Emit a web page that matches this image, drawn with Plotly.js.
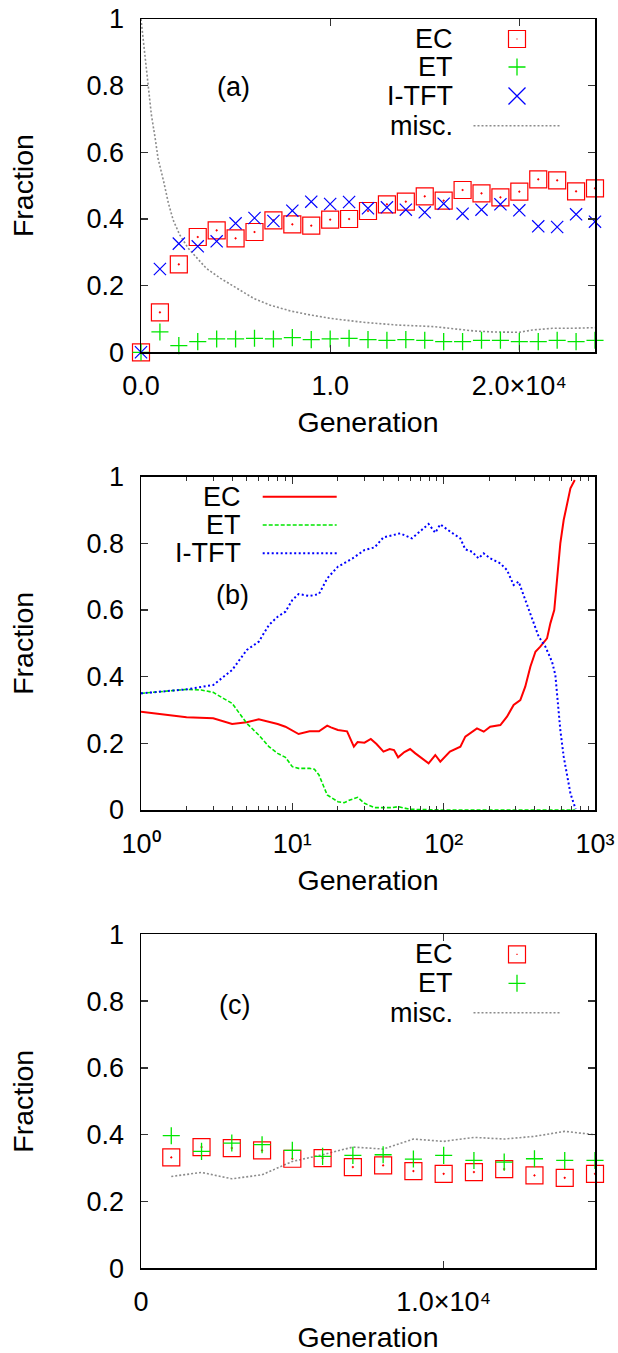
<!DOCTYPE html>
<html><head><meta charset="utf-8">
<script src="https://cdn.plot.ly/plotly-3.0.1.min.js"></script>
<style>html,body{margin:0;padding:0;background:#fff}</style>
</head><body><div id="chart" style="width:618px;height:1353px"></div>
<script>
// ---------- Panel (a) ----------
const genA = [0,1000,2000,3000,4000,5000,6000,7000,8000,9000,10000,11000,12000,13000,14000,15000,16000,17000,18000,19000,20000,21000,22000,23000,24000];
const ecA = [0,0.12,0.264,0.346,0.366,0.342,0.361,0.396,0.384,0.38,0.398,0.40,0.424,0.444,0.452,0.468,0.455,0.487,0.477,0.465,0.482,0.519,0.516,0.483,0.492];
const etA = [0,0.061,0.02,0.032,0.04,0.04,0.042,0.04,0.044,0.038,0.04,0.042,0.038,0.036,0.038,0.036,0.032,0.032,0.036,0.036,0.032,0.032,0.036,0.032,0.036];
const itftA = [0,0.25,0.326,0.318,0.333,0.387,0.403,0.394,0.425,0.452,0.445,0.451,0.432,0.435,0.428,0.42,0.446,0.416,0.428,0.444,0.426,0.378,0.376,0.414,0.392];
const genMiscA = [0,50,200,400,550,750,900,1200,1450,1700,2050,2500,2950,3450,4200,5050,5950,6800,7900,8950,10000,11750,13500,15500,17600,18650,20000,20700,21750,22800,24000];
const miscA = [1.0,0.975,0.882,0.79,0.712,0.642,0.582,0.512,0.447,0.397,0.352,0.312,0.282,0.252,0.222,0.192,0.162,0.142,0.124,0.112,0.102,0.09,0.082,0.077,0.064,0.061,0.06,0.067,0.072,0.072,0.074];
const xTickValsA = [0,10000,20000];
const xTickTextA = ['0.0','1.0','2.0×10⁴'];
const legendA = ['EC','ET','I-TFT','misc.'];

// ---------- Panel (b) ----------
const genEcB = [1,2,3,4,5,6,8,9,11,13,15,17,18,20,23,25.5,27,30,33,36,40,44,47,50,55,60,65,72,79.5,88,95,110,129,139,166,184,203,237,262,290,321,346,374,404,435,482,507,538,561,590,621,654,688,735];
const ecB = [0.295,0.278,0.275,0.258,0.263,0.272,0.258,0.25,0.228,0.236,0.236,0.253,0.248,0.24,0.236,0.19,0.204,0.202,0.213,0.198,0.175,0.183,0.18,0.158,0.174,0.183,0.17,0.155,0.14,0.165,0.145,0.175,0.19,0.22,0.245,0.235,0.25,0.255,0.28,0.315,0.33,0.37,0.43,0.475,0.49,0.515,0.56,0.60,0.69,0.80,0.87,0.92,0.965,0.99];
const genEtB = [1,2,2.5,3,3.5,4,5,6,7,8,9,10,11,13,14,15,17,20,22,24,27,30,35,45,50,60,100,300,740];
const etB = [0.35,0.362,0.36,0.353,0.335,0.32,0.26,0.225,0.19,0.17,0.158,0.13,0.125,0.125,0.122,0.105,0.045,0.025,0.022,0.03,0.038,0.02,0.007,0.007,0.01,0.002,0.0,0.0,0.0];
const genItB = [1,2,3,4,5,6,7,8,9,10,11,13,15,17,20,25,30,35,40,51.6,61.7,70,79.5,88,95,110.6,128.8,139,153.8,170,183.7,203,236.8,262,275.6,290,313,337.5,364.5,393.4,424.5,470,520,547,567,590,621,654,688,723,745];
const itB = [0.35,0.362,0.375,0.42,0.48,0.505,0.555,0.58,0.595,0.63,0.648,0.642,0.648,0.695,0.73,0.755,0.78,0.788,0.818,0.83,0.815,0.835,0.858,0.832,0.857,0.835,0.815,0.782,0.775,0.755,0.77,0.755,0.74,0.72,0.695,0.675,0.685,0.645,0.60,0.56,0.52,0.49,0.445,0.405,0.32,0.24,0.16,0.10,0.05,0.02,0.003];
const xTickValsB = [1,10,100,1000];
const xTickTextB = ['10⁰','10¹','10²','10³'];
const legendB = ['EC','ET','I-TFT'];

// ---------- Panel (c) ----------
const genC = [1000,2000,3000,4000,5000,6000,7000,8000,9000,10000,11000,12000,13000,14000,15000];
const ecC = [0.332,0.363,0.36,0.353,0.328,0.33,0.303,0.308,0.291,0.283,0.288,0.297,0.278,0.271,0.283];
const etC = [0.397,0.35,0.375,0.37,0.353,0.335,0.338,0.34,0.327,0.338,0.323,0.318,0.328,0.323,0.323];
const miscC = [0.275,0.287,0.268,0.28,0.32,0.34,0.363,0.357,0.387,0.38,0.392,0.387,0.395,0.41,0.40];
const xTickValsC = [0,10000];
const xTickTextC = ['0','1.0×10⁴'];
const legendC = ['EC','ET','misc.'];

const yTickVals = [0,0.2,0.4,0.6,0.8,1];
const yTickText = ['0','0.2','0.4','0.6','0.8','1'];

// ---------- styling ----------
const W = 618, H = 1353;
const FONT = 'Liberation Sans, Arial, Helvetica, sans-serif';
const RED = '#ff0000', GREEN = '#00e600', BLUE = '#0000ff', GREY = '#8c8c8c';
const TICKSIZE = 27, TITLESIZE = 28.5;
const px = v => v / W, py = v => 1 - v / H;
const XDOM = [px(141), px(595)];

function xAxis(extra) {
  return Object.assign({
    domain: XDOM, showline: true, linecolor: '#000', linewidth: 1.5, mirror: 'ticks',
    ticks: 'inside', ticklen: 7, tickwidth: 1.3, tickcolor: '#333',
    showgrid: false, zeroline: false, fixedrange: true, ticklabelstandoff: 9,
    tickfont: {family: FONT, size: TICKSIZE, color: '#000'},
    title: {text: 'Generation', font: {family: FONT, size: TITLESIZE, color: '#000'}, standoff: 12}
  }, extra);
}
function yAxis(dom, anchor) {
  return {
    domain: dom, anchor: anchor, range: [0, 1], tickvals: yTickVals, ticktext: yTickText,
    showline: true, linecolor: '#000', linewidth: 1.5, mirror: 'ticks',
    ticks: 'inside', ticklen: 7, tickwidth: 1.3, tickcolor: '#333',
    showgrid: false, zeroline: false, fixedrange: true, ticklabelstandoff: 10,
    tickfont: {family: FONT, size: TICKSIZE, color: '#000'},
    title: {text: 'Fraction', font: {family: FONT, size: TITLESIZE, color: '#000'}, standoff: 44}
  };
}

const sq = (xa, ya, x, y) => ({x, y, xaxis: xa, yaxis: ya, mode: 'markers', cliponaxis: false, showlegend: false,
  marker: {symbol: 'square-open-dot', size: 17, color: RED, line: {width: 1.2, color: RED}}});
const plus = (xa, ya, x, y) => ({x, y, xaxis: xa, yaxis: ya, mode: 'markers', cliponaxis: false, showlegend: false,
  marker: {symbol: 'cross-thin', size: 12.2, color: GREEN, line: {width: 1.3, color: GREEN}}});
const cross = (xa, ya, x, y) => ({x, y, xaxis: xa, yaxis: ya, mode: 'markers', cliponaxis: false, showlegend: false,
  marker: {symbol: 'x-thin', size: 12.2, color: BLUE, line: {width: 1.2, color: BLUE}}});
const miscLine = (xa, ya, x, y) => ({x, y, xaxis: xa, yaxis: ya, mode: 'lines', showlegend: false,
  line: {color: GREY, width: 1.6, dash: '2px,2px'}});

const traces = [
  Object.assign(miscLine('x', 'y', genMiscA, miscA), {name: legendA[3]}),
  Object.assign(sq('x', 'y', genA, ecA), {name: legendA[0]}),
  Object.assign(plus('x', 'y', genA, etA), {name: legendA[1]}),
  Object.assign(cross('x', 'y', genA, itftA), {name: legendA[2]}),

  {x: genEcB, y: ecB, xaxis: 'x2', yaxis: 'y2', mode: 'lines', name: legendB[0], showlegend: false,
   line: {color: RED, width: 2}},
  {x: genEtB, y: etB, xaxis: 'x2', yaxis: 'y2', mode: 'lines', name: legendB[1], showlegend: false,
   line: {color: GREEN, width: 1.6, dash: '4px,2px'}},
  {x: genItB, y: itB, xaxis: 'x2', yaxis: 'y2', mode: 'lines', name: legendB[2], showlegend: false,
   line: {color: BLUE, width: 2, dash: '2px,2.5px'}},

  Object.assign(miscLine('x3', 'y3', genC, miscC), {name: legendC[2]}),
  Object.assign(sq('x3', 'y3', genC, ecC), {name: legendC[0]}),
  Object.assign(plus('x3', 'y3', genC, etC), {name: legendC[1]})
];

// ---------- custom legends (text left, key right, as in the reference) ----------
const annotations = [];
const shapes = [];
function label(text, x, y, anchor) {
  annotations.push({text, xref: 'paper', yref: 'paper', x: px(x), y: py(y), xanchor: anchor || 'right', yanchor: 'middle',
    showarrow: false, font: {family: FONT, size: TICKSIZE, color: '#000'}});
}
function keySquare(x, y) {
  shapes.push({type: 'rect', xref: 'paper', yref: 'paper', xsizemode: 'pixel', ysizemode: 'pixel',
    xanchor: px(x), yanchor: py(y), x0: -8.5, x1: 8.5, y0: -8.5, y1: 8.5, line: {color: RED, width: 1.2}});
  shapes.push({type: 'rect', xref: 'paper', yref: 'paper', xsizemode: 'pixel', ysizemode: 'pixel',
    xanchor: px(x), yanchor: py(y), x0: -0.6, x1: 0.6, y0: -0.6, y1: 0.6, fillcolor: RED, line: {width: 0}});
}
function keyPath(x, y, path, color) {
  shapes.push({type: 'path', xref: 'paper', yref: 'paper', xsizemode: 'pixel', ysizemode: 'pixel',
    xanchor: px(x), yanchor: py(y), path, line: {color, width: 1.3}});
}
function keyLine(x0, x1, y, color, width, dash) {
  shapes.push({type: 'line', xref: 'paper', yref: 'paper', x0: px(x0), x1: px(x1), y0: py(y), y1: py(y),
    line: {color, width, dash}});
}
const PLUS = 'M-8.5,0H8.5M0,-8.5V8.5';
const XS = 'M-8.5,-8.5L8.5,8.5M-8.5,8.5L8.5,-8.5';

// (a)
const rowsA = [39, 67, 96, 125.7];
legendA.forEach((t, i) => label(t, 455, rowsA[i]));
keySquare(517, rowsA[0]); keyPath(517, rowsA[1], PLUS, GREEN); keyPath(517, rowsA[2], XS, BLUE);
keyLine(473.5, 560, rowsA[3], GREY, 1.6, '2px,2px');
label('(a)', 233.3, 86.7, 'center');
// (b)
const rowsB = [496.7, 525, 553.3];
legendB.forEach((t, i) => label(t, 243.3, rowsB[i]));
keyLine(262.7, 336.7, rowsB[0], RED, 2, 'solid');
keyLine(262.7, 336.7, rowsB[1], GREEN, 1.6, '4px,2px');
keyLine(262.7, 336.7, rowsB[2], BLUE, 2, '2px,2.5px');
label('(b)', 232, 595, 'center');
// (c)
const rowsC = [954.3, 983.3, 1012.7];
legendC.forEach((t, i) => label(t, 455, rowsC[i]));
keySquare(517, rowsC[0]); keyPath(517, rowsC[1], PLUS, GREEN);
keyLine(473.5, 560, rowsC[2], GREY, 1.6, '2px,2px');
label('(c)', 234, 1005, 'center');

const layout = {
  width: W, height: H, margin: {l: 0, r: 0, t: 0, b: 0},
  paper_bgcolor: '#fff', plot_bgcolor: '#fff', showlegend: false,
  font: {family: FONT, color: '#000'},
  xaxis: xAxis({anchor: 'y', range: [0, 24000], tickvals: xTickValsA, ticktext: xTickTextA}),
  yaxis: yAxis([py(352.3), py(19)], 'x'),
  xaxis2: xAxis({anchor: 'y2', type: 'log', range: [0, 3], tickvals: xTickValsB, ticktext: xTickTextB,
    minor: {ticks: 'inside', ticklen: 4, tickwidth: 1, tickcolor: '#333', showgrid: false, dtick: 'D1'}}),
  yaxis2: yAxis([py(810), py(476.7)], 'x2'),
  xaxis3: xAxis({anchor: 'y3', range: [0, 15000], tickvals: xTickValsC, ticktext: xTickTextC}),
  yaxis3: yAxis([py(1268.3), py(934.3)], 'x3'),
  annotations, shapes
};

Plotly.newPlot('chart', traces, layout, {staticPlot: true, displayModeBar: false});
</script></body></html>
